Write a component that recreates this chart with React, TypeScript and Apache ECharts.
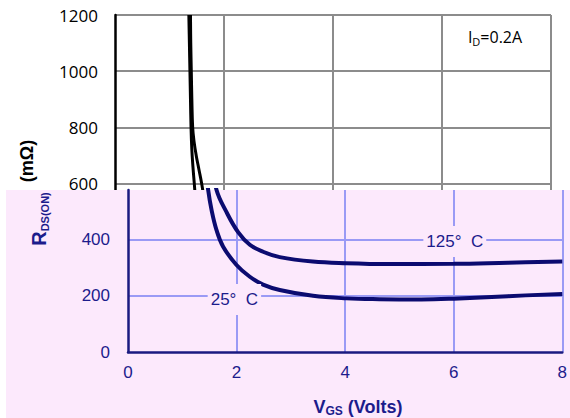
import React, { useEffect, useRef } from "react";
import * as echarts from "echarts";

// ---- data ----
// upper (white) panel: black curves, R in mΩ vs VGS in volts
const topCurve25: [number, number][] = [
  [1.355, 1200], [1.365, 1100], [1.375, 1000], [1.385, 900], [1.395, 800], [1.41, 720], [1.43, 660],
  [1.455, 600], [1.48, 540], [1.52, 480],
];
const topCurve125: [number, number][] = [
  [1.385, 1200], [1.39, 1100], [1.4, 1000], [1.41, 900], [1.425, 800], [1.45, 750], [1.49, 700],
  [1.54, 650], [1.59, 600], [1.64, 540], [1.7, 480],
];
// lower (pink) panel: navy curves
const curve25: [number, number][] = [
  [1.43, 660], [1.477, 577], [1.539, 506], [1.631, 434], [1.753, 375], [1.999, 310], [2.244, 268],
  [2.488, 240], [2.795, 221], [3.408, 200], [4.022, 191], [4.63, 188], [5.4, 187], [6.0, 190],
  [7.0, 199], [8.0, 207],
];
const curve125: [number, number][] = [
  [1.58, 660], [1.631, 577], [1.815, 498], [2.028, 427], [2.244, 382], [2.488, 357], [2.795, 338],
  [3.402, 322], [4.022, 316], [4.8, 313], [6.0, 314], [7.0, 318], [8.0, 322],
];
const label25Text = "25°  C";
const label25Coord = [1.96, 187];
const label125Text = "125°  C";
const label125Coord = [6.02, 394];
const xMin = 0;
const xMax = 8;
const xStep = 2;
const topYMin = 0;
const topYMax = 1200;
const topYFirstShown = 600;
const yStep = 200;
const bottomYMin = 0;
const bottomYMax = 577;

const navy = "#0b0b70";
const axisNavy = "#1a1a80";
const textNavy = "#1c1c8c";
const lavender = "#9a9af5";
const pink = "#fce9fc";
const gray = "#8c8c8c";

export default function App() {
  const ref = useRef<HTMLDivElement>(null);
  useEffect(() => {
    if (!ref.current) return;
    const chart = echarts.init(ref.current, undefined, { renderer: "svg" });
    const markLabel = (text: string) => ({
      show: true,
      position: "inside",
      formatter: text,
      color: textNavy,
      fontSize: 17,
      fontFamily: "Liberation Sans",
      backgroundColor: pink,
      padding: [7, 3],
    });
    const curveStyle = { symbol: "none", smooth: 0.4 };
    chart.setOption({
      animation: false,
      backgroundColor: "#ffffff",
      grid: [
        { left: 115, right: 19, top: 15, bottom: 66 },
        { left: 128, right: 7, top: 190, bottom: 66, z: 60 },
      ],
      xAxis: [
        {
          gridIndex: 0, type: "value", min: xMin, max: xMax, interval: xStep,
          axisLine: { show: false }, axisTick: { show: false }, axisLabel: { show: false },
          splitLine: { show: true, showMinLine: false, lineStyle: { color: gray, width: 2 } },
        },
        {
          gridIndex: 1, type: "value", min: xMin, max: xMax, interval: xStep, z: 60,
          axisLine: { show: true, onZero: false, lineStyle: { color: axisNavy, width: 2.5 } },
          axisTick: { show: false },
          axisLabel: { color: textNavy, fontSize: 17, fontFamily: "Liberation Sans", margin: 12 },
          splitLine: { show: true, showMinLine: false, lineStyle: { color: lavender, width: 2 } },
        },
      ],
      yAxis: [
        {
          gridIndex: 0, type: "value", min: topYMin, max: topYMax, interval: yStep,
          axisLine: { show: true, lineStyle: { color: "#000000", width: 2.5 } },
          axisTick: { show: false },
          axisLabel: {
            color: "#000000", fontSize: 17, fontFamily: "Open Sans", margin: 17,
            formatter: (v: number) => (v >= topYFirstShown ? String(v) : ""),
          },
          splitLine: { show: true, showMinLine: false, lineStyle: { color: gray, width: 2 } },
        },
        {
          gridIndex: 1, type: "value", min: bottomYMin, max: bottomYMax, interval: yStep, z: 60,
          axisLine: { show: true, onZero: false, lineStyle: { color: axisNavy, width: 2.5 } },
          axisTick: { show: false },
          axisLabel: { color: textNavy, fontSize: 17, fontFamily: "Liberation Sans", margin: 18, showMaxLabel: false },
          splitLine: { show: true, showMinLine: false, showMaxLine: false, lineStyle: { color: lavender, width: 2 } },
        },
      ],
      graphic: {
        elements: [
          {
            type: "rect", silent: true, z: 50,
            shape: { x: 6, y: 190, width: 570, height: 240 },
            style: { fill: pink },
          },
          {
            type: "text", x: 27, y: 161, rotation: Math.PI / 2, z: 40, silent: true,
            style: { text: "(mΩ)", fill: "#000000", font: 'bold 18px "Liberation Sans"', align: "center", verticalAlign: "middle" },
          },
          {
            type: "text", x: 39, y: 219, rotation: Math.PI / 2, z: 55, silent: true,
            style: {
              text: "{r|R}{s|DS(ON)}", align: "center", verticalAlign: "middle",
              rich: {
                r: { fontSize: 20, fontWeight: "bold", fontFamily: "Liberation Sans", fill: textNavy, lineHeight: 22 },
                s: { fontSize: 11, fontWeight: "bold", fontFamily: "Liberation Sans", fill: textNavy, lineHeight: 11, verticalAlign: "bottom" },
              },
            },
          },
          {
            type: "text", x: 358, y: 407, z: 55, silent: true,
            style: {
              text: "{v|V}{s|GS}{v| (Volts)}", align: "center", verticalAlign: "middle",
              rich: {
                v: { fontSize: 18, fontWeight: "bold", fontFamily: "Liberation Sans", fill: textNavy, lineHeight: 20 },
                s: { fontSize: 12, fontWeight: "bold", fontFamily: "Liberation Sans", fill: textNavy, lineHeight: 12, verticalAlign: "bottom" },
              },
            },
          },
          {
            type: "text", x: 495, y: 37, z: 40, silent: true,
            style: {
              text: "{i|I}{d|D}{e|=0.2A}", align: "center", verticalAlign: "middle",
              rich: {
                i: { fontSize: 16, fontFamily: "Open Sans", fill: "#000000", lineHeight: 20 },
                d: { fontSize: 11, fontFamily: "Open Sans", fill: "#000000", lineHeight: 11, verticalAlign: "bottom" },
                e: { fontSize: 16, fontFamily: "Open Sans", fill: "#000000", lineHeight: 20 },
              },
            },
          },
        ],
      },
      series: [
        {
          type: "line", xAxisIndex: 0, yAxisIndex: 0, data: topCurve25, ...curveStyle,
          lineStyle: { color: "#000000", width: 3 }, z: 2,
        },
        {
          type: "line", xAxisIndex: 0, yAxisIndex: 0, data: topCurve125, ...curveStyle,
          lineStyle: { color: "#000000", width: 3 }, z: 2,
        },
        {
          type: "line", xAxisIndex: 1, yAxisIndex: 1, data: curve25, ...curveStyle,
          lineStyle: { color: navy, width: 4 }, z: 70,
          markPoint: {
            z: 80, symbol: "circle", symbolSize: 1, itemStyle: { color: "rgba(0,0,0,0)" },
            label: markLabel(label25Text), data: [{ coord: label25Coord }],
          },
        },
        {
          type: "line", xAxisIndex: 1, yAxisIndex: 1, data: curve125, ...curveStyle,
          lineStyle: { color: navy, width: 4 }, z: 70,
          markPoint: {
            z: 80, symbol: "circle", symbolSize: 1, itemStyle: { color: "rgba(0,0,0,0)" },
            label: markLabel(label125Text), data: [{ coord: label125Coord }],
          },
        },
      ],
    });
    return () => chart.dispose();
  }, []);
  return <div ref={ref} style={{ position: "fixed", left: 0, top: 0, width: 570, height: 418 }} />;
}
